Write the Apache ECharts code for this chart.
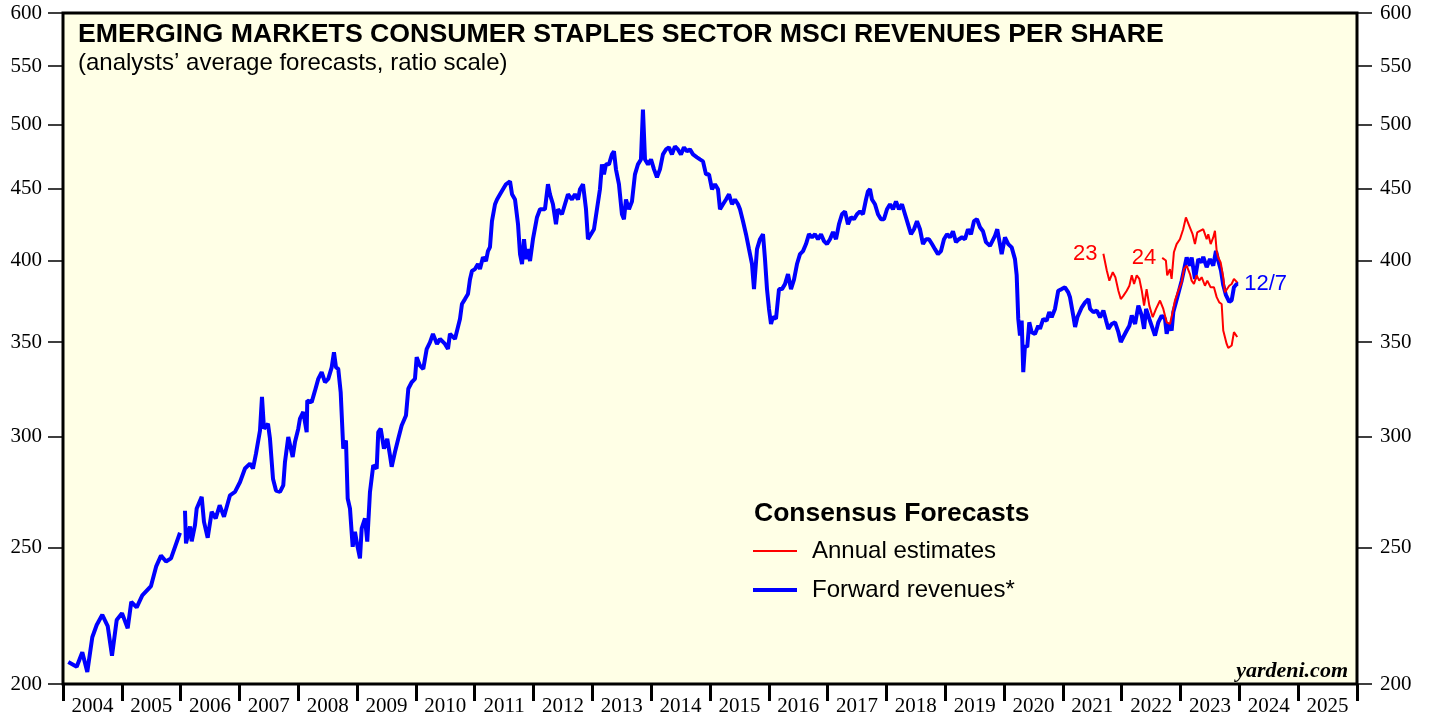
<!DOCTYPE html>
<html>
<head>
<meta charset="utf-8">
<title>EM Consumer Staples Revenues Per Share</title>
<script src="https://cdn.jsdelivr.net/npm/echarts@6/dist/echarts.min.js"></script>
<style>
  html, body { margin: 0; padding: 0; background: #fff; }
  #main { width: 1429px; height: 717px; }
</style>
</head>
<body>
<div id="main"></div>
<script>
// tick labels
const yTicks = [200, 250, 300, 350, 400, 450, 500, 550, 600];
const yearLabels = [2004, 2005, 2006, 2007, 2008, 2009, 2010, 2011, 2012, 2013, 2014,
  2015, 2016, 2017, 2018, 2019, 2020, 2021, 2022, 2023, 2024, 2025];

// forward revenues (weekly), null = break in the line
const forwardRevenues = [
  [2004.09, 207.3], [2004.233, 205.7], [2004.328, 210.7], [2004.413, 204], [2004.498, 215.9],
  [2004.573, 220.3], [2004.668, 224], [2004.76, 219.9], [2004.833, 209.5], [2004.913, 222.1],
  [2005.003, 224.6], [2005.1, 219.1], [2005.161, 228.8], [2005.253, 226.7], [2005.348, 231.2],
  [2005.496, 234.8], [2005.586, 242.6], [2005.666, 246.8], [2005.751, 244.4], [2005.836, 245.7],
  [2005.989, 256.2], [2006.03, null],
  [2006.074, 265.6], [2006.091, 251.8], [2006.159, 258.8], [2006.188, 252.6], [2006.244, 259.4],
  [2006.273, 266.6], [2006.358, 271.7], [2006.397, 260.8], [2006.46, 254.1], [2006.528, 265.1],
  [2006.596, 262.3], [2006.664, 268], [2006.737, 263], [2006.839, 272.4], [2006.924, 273.9],
  [2007.01, 278.4], [2007.094, 284.6], [2007.179, 286.9], [2007.23, 284.6], [2007.281, 291.6],
  [2007.349, 302.8], [2007.383, 320], [2007.417, 303.8], [2007.485, 306.2], [2007.519, 298.8],
  [2007.57, 279.9], [2007.621, 274.5], [2007.689, 273.9], [2007.745, 276.9], [2007.774, 287.7],
  [2007.83, 299.7], [2007.859, 299.7], [2007.905, 290], [2007.944, 297.2], [2008.0, 303.8],
  [2008.029, 308.8], [2008.085, 312.2], [2008.143, 302.1], [2008.153, 318.1], [2008.228, 317.3],
  [2008.284, 323.3], [2008.34, 329.6], [2008.398, 333.2], [2008.454, 327.8], [2008.51, 329.6],
  [2008.568, 335.9], [2008.607, 344.3], [2008.641, 335.9], [2008.68, 335], [2008.721, 322.5],
  [2008.765, 294], [2008.811, 298], [2008.84, 271], [2008.879, 266.6], [2008.925, 250.4],
  [2008.964, 256.6], [2009.003, 251.1], [2009.049, 245.7], [2009.078, 258], [2009.134, 262.3],
  [2009.173, 252.5], [2009.219, 273.9], [2009.275, 286.1], [2009.333, 284.6], [2009.36, 302.1],
  [2009.401, 303.8], [2009.457, 294], [2009.513, 298.8], [2009.559, 290.8], [2009.588, 285.4],
  [2009.644, 292.4], [2009.7, 298.8], [2009.758, 305.4], [2009.831, 310.4], [2009.871, 324.3],
  [2009.928, 327.8], [2009.984, 329.6], [2010.013, 341.5], [2010.069, 336.8], [2010.125, 335],
  [2010.183, 346.1], [2010.239, 349.9], [2010.29, 354.8], [2010.358, 349], [2010.409, 351.9],
  [2010.494, 349], [2010.545, 346.2], [2010.579, 354.8], [2010.664, 351.9], [2010.749, 363.6],
  [2010.783, 372.6], [2010.834, 375.6], [2010.885, 378.7], [2010.919, 387.8], [2010.953, 393.3],
  [2011.004, 394.5], [2011.055, 397.8], [2011.089, 394.5], [2011.14, 402.3], [2011.191, 399.7],
  [2011.225, 406.3], [2011.259, 409], [2011.293, 426.7], [2011.345, 438.7], [2011.379, 442.1],
  [2011.43, 445.9], [2011.48, 449.6], [2011.531, 453.3], [2011.6, 455.5], [2011.634, 445.9],
  [2011.685, 442.1], [2011.736, 424.6], [2011.77, 404.3], [2011.804, 397.8], [2011.838, 414.3],
  [2011.872, 401], [2011.906, 407.6], [2011.94, 399.7], [2011.99, 414.3], [2012.059, 429.5],
  [2012.11, 435.1], [2012.194, 435.1], [2012.245, 453.3], [2012.279, 445.9], [2012.33, 438.7],
  [2012.381, 424.6], [2012.415, 435.1], [2012.483, 431.6], [2012.534, 438.7], [2012.585, 445.9],
  [2012.653, 442.1], [2012.704, 445.9], [2012.756, 442.1], [2012.79, 449.6], [2012.841, 453.3],
  [2012.892, 435.1], [2012.925, 414.3], [2012.976, 417.7], [2013.027, 421.1], [2013.078, 435.1],
  [2013.129, 449.6], [2013.163, 468.3], [2013.197, 460.7], [2013.231, 468.3], [2013.282, 468.3],
  [2013.333, 476], [2013.367, 478.4], [2013.401, 464.5], [2013.452, 453.3], [2013.503, 431.6],
  [2013.537, 428.1], [2013.571, 442.1], [2013.622, 435.1], [2013.673, 440.6], [2013.724, 460.7],
  [2013.775, 468.3], [2013.826, 472.1], [2013.86, 512.3], [2013.895, 472.1], [2013.946, 468.3],
  [2013.997, 472.1], [2014.048, 464.5], [2014.098, 458.5], [2014.149, 464.5], [2014.2, 476],
  [2014.251, 479.9], [2014.302, 481.5], [2014.353, 476], [2014.404, 482.3], [2014.455, 479.9],
  [2014.506, 476], [2014.557, 481.5], [2014.608, 478.4], [2014.659, 479.9], [2014.711, 476],
  [2014.779, 473.7], [2014.83, 472.1], [2014.881, 470.6], [2014.932, 460.7], [2014.983, 460.7],
  [2015.034, 449.6], [2015.085, 453.3], [2015.136, 449.6], [2015.17, 435.1], [2015.221, 438.7],
  [2015.272, 442.1], [2015.323, 445.9], [2015.374, 438.7], [2015.425, 442.1], [2015.476, 438.7],
  [2015.51, 435.1], [2015.561, 426.7], [2015.612, 417.7], [2015.663, 407.6], [2015.714, 397.8],
  [2015.748, 381.8], [2015.799, 407.6], [2015.85, 414.3], [2015.901, 417.7], [2015.935, 401],
  [2015.969, 381.8], [2016.003, 369.6], [2016.037, 360.6], [2016.071, 364.8], [2016.122, 363.6],
  [2016.173, 381.8], [2016.224, 381.8], [2016.275, 384.9], [2016.326, 391.3], [2016.377, 381.8],
  [2016.428, 387.8], [2016.479, 397.8], [2016.53, 404.3], [2016.581, 406.3], [2016.632, 411],
  [2016.683, 417.7], [2016.734, 415.6], [2016.785, 417.7], [2016.836, 414.3], [2016.887, 417.7],
  [2016.938, 413], [2016.989, 411], [2017.04, 414.3], [2017.091, 419.1], [2017.142, 414.3],
  [2017.193, 424.6], [2017.244, 431.6], [2017.295, 433.6], [2017.346, 424.6], [2017.397, 429.5],
  [2017.448, 428.1], [2017.499, 431.6], [2017.55, 433.6], [2017.601, 431.6], [2017.652, 442.1],
  [2017.686, 448.1], [2017.72, 449.6], [2017.754, 442.1], [2017.805, 438.7], [2017.856, 431.6],
  [2017.907, 428.1], [2017.958, 428.1], [2018.009, 435.1], [2018.06, 438.7], [2018.111, 435.1],
  [2018.162, 440.6], [2018.213, 435.1], [2018.264, 438.7], [2018.315, 431.6], [2018.366, 424.6],
  [2018.417, 417.7], [2018.468, 421.1], [2018.519, 426.7], [2018.57, 421.1], [2018.621, 411],
  [2018.672, 414.3], [2018.723, 414.3], [2018.774, 411], [2018.825, 407.6], [2018.876, 404.3],
  [2018.927, 406.3], [2018.978, 414.3], [2019.029, 417.7], [2019.08, 415.6], [2019.131, 419.7],
  [2019.182, 412.3], [2019.233, 414.3], [2019.284, 415.6], [2019.335, 414.3], [2019.386, 421.1],
  [2019.437, 417.7], [2019.488, 426.7], [2019.539, 428.1], [2019.59, 422.5], [2019.641, 419.7],
  [2019.692, 412.3], [2019.76, 409.8], [2019.845, 416.5], [2019.884, 421.1], [2019.959, 404.3],
  [2020.015, 415.5], [2020.071, 411], [2020.129, 408.8], [2020.185, 401], [2020.214, 390.5],
  [2020.241, 363.6], [2020.27, 353.8], [2020.299, 362.6], [2020.326, 333.3], [2020.355, 348.1],
  [2020.394, 347.2], [2020.428, 361.6], [2020.469, 355.8], [2020.525, 354.8], [2020.581, 359.6],
  [2020.61, 357.7], [2020.666, 363.6], [2020.724, 362.6], [2020.768, 367.7], [2020.809, 364.6],
  [2020.865, 369.6], [2020.921, 380.8], [2020.979, 381.8], [2021.035, 382.9], [2021.091, 379.8],
  [2021.12, 376.8], [2021.176, 365.6], [2021.207, 358.8], [2021.246, 364.6], [2021.321, 370.6],
  [2021.377, 373.6], [2021.433, 375.6], [2021.462, 369.6], [2021.518, 367.7], [2021.576, 368.6],
  [2021.632, 364.6], [2021.688, 368.6], [2021.734, 362.6], [2021.773, 357.7], [2021.831, 360.6],
  [2021.887, 361.6], [2021.943, 355.8], [2021.984, 350.1], [2022.027, 353], [2022.085, 356.8],
  [2022.13, 359.6], [2022.171, 365.6], [2022.227, 360.6], [2022.283, 371.6], [2022.341, 365.6],
  [2022.38, 357.7], [2022.414, 369.6], [2022.469, 363.6], [2022.527, 357.7], [2022.566, 353.8],
  [2022.622, 361.6], [2022.679, 365.6], [2022.736, 363.6], [2022.764, 354.8], [2022.804, 360.6],
  [2022.849, 356.8], [2022.877, 367.7], [2022.945, 376.8], [2023.019, 387.1], [2023.104, 402.1],
  [2023.16, 396.7], [2023.189, 402.1], [2023.245, 388.2], [2023.302, 401], [2023.359, 398.9],
  [2023.386, 402.5], [2023.444, 395.7], [2023.5, 401], [2023.556, 396.7], [2023.602, 406.4],
  [2023.641, 399.9], [2023.687, 393.6], [2023.726, 384.3], [2023.772, 378], [2023.828, 373.9],
  [2023.869, 374.9], [2023.908, 383], [2023.954, 385], [2023.981, 385]
];

// annual estimates for 2023
const estimates2023 = [
  [2021.688, 404.5], [2021.746, 393.6], [2021.79, 387.1], [2021.848, 392.5], [2021.892, 389.3],
  [2021.943, 380.8], [2021.984, 375.6], [2022.027, 377.6], [2022.085, 380.8], [2022.13, 383.9],
  [2022.171, 390.5], [2022.21, 385], [2022.255, 390.5], [2022.3, 388.2], [2022.341, 380.8],
  [2022.38, 371.6], [2022.423, 381.8], [2022.469, 371.6], [2022.527, 364.6], [2022.583, 369.6],
  [2022.651, 374.7], [2022.707, 369.6], [2022.764, 361.6], [2022.82, 360.6], [2022.866, 367.7],
  [2022.905, 374.7], [2022.962, 380.8], [2023.019, 386], [2023.058, 394.5], [2023.104, 396.7],
  [2023.16, 391.3], [2023.189, 387.1], [2023.228, 385], [2023.274, 390.5], [2023.318, 387.1],
  [2023.359, 389.3], [2023.415, 383.9], [2023.455, 387.1], [2023.512, 382.9], [2023.568, 382.9],
  [2023.614, 376.8], [2023.658, 373.6], [2023.699, 372.6], [2023.726, 356.8], [2023.755, 355.8],
  [2023.784, 349], [2023.811, 346.7], [2023.869, 348.1], [2023.908, 355.8], [2023.942, 356.8],
  [2023.964, 353]
];

// annual estimates for 2024
const estimates2024 = [
  [2022.688, 401.8], [2022.751, 400.1], [2022.773, 390.5], [2022.819, 394.5], [2022.848, 388.2],
  [2022.887, 405.5], [2022.933, 411], [2022.989, 414.3], [2023.045, 421.1], [2023.091, 429.3],
  [2023.12, 428.1], [2023.16, 422.3], [2023.205, 417.7], [2023.245, 411], [2023.284, 418.9],
  [2023.33, 420], [2023.386, 421.1], [2023.415, 417.7], [2023.444, 414.3], [2023.471, 417.7],
  [2023.512, 411], [2023.556, 415.5], [2023.585, 420], [2023.614, 406.4], [2023.641, 402.1],
  [2023.682, 398.9], [2023.726, 389.3], [2023.755, 379.8], [2023.784, 380.8], [2023.828, 383.9],
  [2023.869, 385], [2023.908, 388.2], [2023.942, 387.1], [2023.964, 386]
];

const SANS = 'Liberation Sans, Arial, sans-serif';
const SERIF = 'Liberation Serif, Times New Roman, serif';

// first point of an estimate line carries its year label
function withStartLabel(data, text) {
  return data.map((d, i) => i === 0
    ? { value: d, label: { show: true, position: 'left', distance: 6, formatter: text,
        color: '#ff0000', fontFamily: SANS, fontSize: 22 } }
    : d);
}

const yAxisBase = {
  type: 'log',
  logBase: 10,
  min: 200,
  max: 600,
  axisLine: { show: false },
  splitLine: { show: false },
  axisTick: { show: true, length: 15, customValues: yTicks, lineStyle: { color: '#000', width: 1.5 } },
  axisLabel: { customValues: yTicks, fontFamily: SERIF, fontSize: 21, color: '#000' }
};

const chart = echarts.init(document.getElementById('main'));
chart.setOption({
  animation: false,
  backgroundColor: '#ffffff',
  title: [
    {
      text: 'EMERGING MARKETS CONSUMER STAPLES SECTOR MSCI REVENUES PER SHARE',
      left: 78, top: 21, padding: 0,
      textStyle: { fontFamily: SANS, fontWeight: 'bold', fontSize: 26.7, color: '#000' }
    },
    {
      text: '(analysts\u2019 average forecasts, ratio scale)',
      left: 78, top: 51, padding: 0,
      textStyle: { fontFamily: SANS, fontWeight: 'normal', fontSize: 24, color: '#000' }
    },
    {
      text: 'Consensus Forecasts',
      left: 754, top: 500, padding: 0,
      textStyle: { fontFamily: SANS, fontWeight: 'bold', fontSize: 26.5, color: '#000' }
    },
    {
      text: 'yardeni.com',
      right: 81, top: 660, padding: 0,
      textStyle: { fontFamily: SERIF, fontWeight: 'bold', fontStyle: 'italic', fontSize: 22, color: '#000' }
    }
  ],
  legend: {
    orient: 'vertical',
    left: 753,
    top: 538,
    padding: 0,
    itemWidth: 44,
    itemHeight: 4,
    itemGap: 13,
    selectedMode: false,
    data: [
      { name: 'Annual estimates', icon: 'path://M0,0H44V2H0Z' },
      { name: 'Forward revenues*', icon: 'path://M0,0H44V4H0Z' }
    ],
    textStyle: { fontFamily: SANS, fontSize: 24, color: '#000', lineHeight: 26, padding: [0, 0, 0, 10] }
  },
  grid: {
    left: 63, right: 72, top: 13, bottom: 31,
    show: true,
    backgroundColor: '#ffffe6',
    borderColor: '#000',
    borderWidth: 3
  },
  xAxis: {
    type: 'value',
    min: 2004,
    max: 2026,
    axisLine: { show: false },
    splitLine: { show: false },
    axisTick: {
      show: true, length: 17,
      customValues: yearLabels.concat([2026]),
      lineStyle: { color: '#000', width: 3 }
    },
    axisLabel: {
      customValues: yearLabels.map(y => y + 0.5),
      formatter: v => String(Math.floor(v)),
      margin: 12,
      fontFamily: SERIF, fontSize: 21, color: '#000'
    }
  },
  yAxis: [
    Object.assign({}, yAxisBase, {
      position: 'left',
      axisLabel: Object.assign({}, yAxisBase.axisLabel, { margin: 21 })
    }),
    Object.assign({}, yAxisBase, {
      position: 'right',
      axisLabel: Object.assign({}, yAxisBase.axisLabel, { margin: 23 })
    })
  ],
  series: [
    {
      name: 'Forward revenues*',
      type: 'line',
      data: forwardRevenues,
      showSymbol: false,
      connectNulls: false,
      color: '#0000ff',
      lineStyle: { color: '#0000ff', width: 4 },
      endLabel: {
        show: true, formatter: '12/7', distance: 6,
        color: '#0000ff', fontFamily: SANS, fontSize: 22
      }
    },
    {
      name: 'Annual estimates',
      type: 'line',
      data: withStartLabel(estimates2023, '23'),
      symbol: 'circle',
      symbolSize: 0,
      showSymbol: true,
      color: '#ff0000',
      lineStyle: { color: '#ff0000', width: 2 }
    },
    {
      name: 'Annual estimates',
      type: 'line',
      data: withStartLabel(estimates2024, '24'),
      symbol: 'circle',
      symbolSize: 0,
      showSymbol: true,
      color: '#ff0000',
      lineStyle: { color: '#ff0000', width: 2 }
    }
  ]
});
</script>
</body>
</html>
